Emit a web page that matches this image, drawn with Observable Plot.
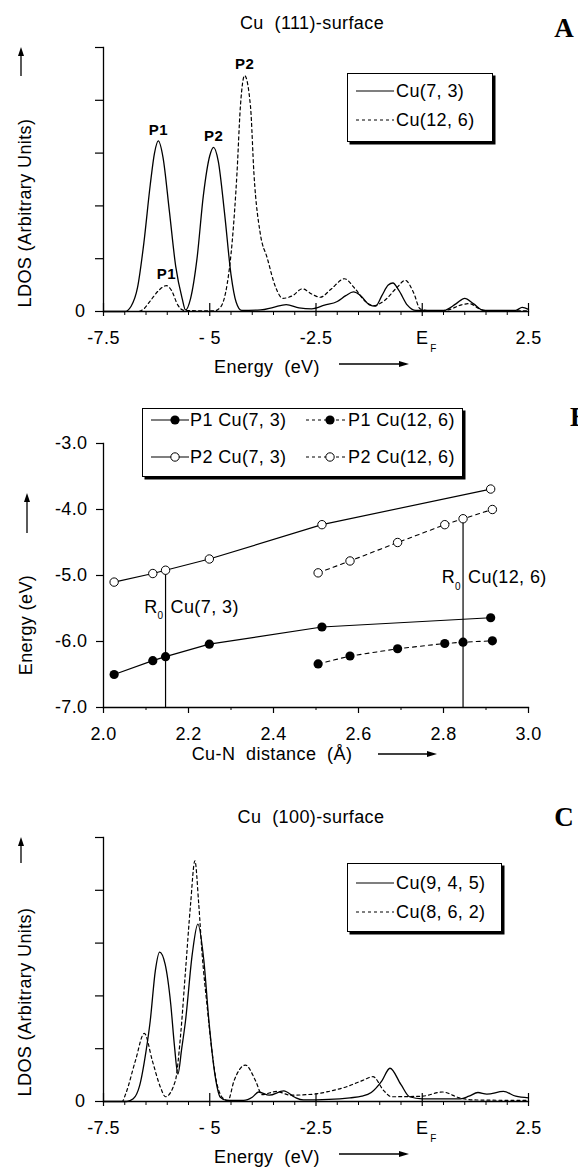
<!DOCTYPE html>
<html>
<head>
<meta charset="utf-8">
<script src="https://cdn.jsdelivr.net/npm/d3@7"></script>
<script src="https://cdn.jsdelivr.net/npm/@observablehq/plot@0.6"></script>
<style>
html,body{margin:0;padding:0;background:#fff;}
#fig{position:relative;width:578px;height:1167px;overflow:hidden;background:#fff;color:#000;
 font-family:"Liberation Sans",Arial,Helvetica,sans-serif;font-size:18px;letter-spacing:0.4px;}
#fig .abs{position:absolute;white-space:pre;line-height:1;}
.legend{position:absolute;border:1.5px solid #000;box-shadow:2.5px 2.5px 0 #000;background:#fff;box-sizing:border-box;}
</style>
</head>
<body>
<div id="fig"></div>
<script>
// ---------------- Panel A: Cu (111)-surface, LDOS ----------------
const energyA_Cu73 = [-7.5, -7.0, -6.85, -6.7, -6.55, -6.4, -6.3, -6.21, -6.1, -5.95, -5.8, -5.65, -5.57, -5.45, -5.3, -5.15, -5.0, -4.91, -4.8, -4.65, -4.5, -4.38, -4.25, -3.8, -3.5, -3.2, -2.9, -2.6, -2.3, -2.0, -1.8, -1.62, -1.45, -1.25, -1.1, -0.95, -0.8, -0.69, -0.55, -0.35, -0.15, 0.5, 0.8, 1.0, 1.2, 1.45, 2.2, 2.35, 2.5];
const ldosA_Cu73   = [0, 0, 0.1, 0.45, 1.3, 2.4, 3.0, 3.23, 2.92, 1.9, 0.85, 0.25, 0.03, 0.25, 1.0, 2.2, 2.95, 3.11, 2.85, 1.85, 0.7, 0.18, 0.02, 0.03, 0.08, 0.13, 0.07, 0.05, 0.12, 0.19, 0.3, 0.37, 0.3, 0.13, 0.1, 0.3, 0.5, 0.54, 0.4, 0.12, 0.02, 0.02, 0.15, 0.25, 0.15, 0.02, 0.02, 0.08, 0.04];
const energyA_Cu126 = [-7.5, -6.7, -6.55, -6.4, -6.2, -6.02, -5.9, -5.75, -5.6, -4.9, -4.75, -4.59, -4.47, -4.36, -4.28, -4.18, -4.04, -3.96, -3.81, -3.65, -3.45, -3.28, -3.05, -2.82, -2.6, -2.4, -2.15, -1.83, -1.6, -1.35, -1.15, -0.9, -0.6, -0.4, -0.2, -0.05, 0.2, 0.6, 0.9, 1.1, 1.35, 1.6, 2.5];
const ldosA_Cu126   = [0, 0, 0.05, 0.2, 0.4, 0.49, 0.4, 0.12, 0.02, 0.01, 0.08, 0.52, 1.34, 2.61, 3.87, 4.47, 3.87, 2.61, 1.47, 1.02, 0.46, 0.25, 0.3, 0.43, 0.33, 0.27, 0.42, 0.62, 0.45, 0.2, 0.11, 0.2, 0.45, 0.59, 0.35, 0.05, 0.01, 0.03, 0.12, 0.15, 0.05, 0.01, 0.01];
const seriesNamesA = ["Cu(7, 3)", "Cu(12, 6)"];
// peak labels: [series index, point index, text]
const peakSeriesA = [0, 0, 1, 1];
const peakIndexA  = [7, 17, 5, 15];
const peakTextA   = ["P1", "P2", "P1", "P2"];

// ---------------- Panel B: peak energy vs Cu-N distance ----------------
const dist_Cu73  = [2.025, 2.116, 2.146, 2.249, 2.514, 2.911];
const eP1_Cu73   = [-6.50, -6.29, -6.23, -6.04, -5.78, -5.64];
const eP2_Cu73   = [-5.10, -4.97, -4.92, -4.75, -4.23, -3.69];
const dist_Cu126 = [2.505, 2.580, 2.692, 2.803, 2.846, 2.915];
const eP1_Cu126  = [-6.34, -6.22, -6.11, -6.03, -6.01, -5.99];
const eP2_Cu126  = [-4.96, -4.78, -4.50, -4.23, -4.14, -4.00];
const r0Index    = [2, 4];           // equilibrium distance point of Cu(7,3) and Cu(12,6)
const r0Sites    = ["Cu(7, 3)", "Cu(12, 6)"];
const r0LabelE   = [-5.48, -5.03];   // label heights (eV)
const ticksB_x   = [2.0, 2.2, 2.4, 2.6, 2.8, 3.0];
const minorB_x   = [2.1, 2.3, 2.5, 2.7, 2.9];
const ticksB_y   = [-3, -4, -5, -6, -7];

// ---------------- Panel C: Cu (100)-surface, LDOS ----------------
const energyC_Cu945 = [-7.5, -6.95, -6.8, -6.65, -6.5, -6.4, -6.28, -6.18, -6.05, -5.92, -5.83, -5.75, -5.66, -5.57, -5.41, -5.28, -5.14, -5.02, -4.88, -4.75, -4.6, -4.2, -4.0, -3.85, -3.6, -3.26, -3.0, -2.8, -2.2, -1.7, -1.42, -1.2, -0.95, -0.76, -0.5, -0.3, 0.0, 0.9, 1.1, 1.31, 1.52, 1.91, 2.2, 2.5];
const ldosC_Cu945   = [0, 0, 0.05, 0.3, 0.95, 1.53, 2.48, 2.83, 2.6, 1.86, 1.05, 0.52, 1.0, 1.53, 2.8, 3.36, 2.68, 1.53, 0.52, 0.08, 0.02, 0.02, 0.08, 0.18, 0.12, 0.2, 0.08, 0.03, 0.04, 0.07, 0.1, 0.17, 0.39, 0.63, 0.32, 0.09, 0.05, 0.05, 0.1, 0.17, 0.14, 0.19, 0.1, 0.07];
const energyC_Cu862 = [-7.5, -7.06, -6.98, -6.75, -6.54, -6.35, -6.16, -6.04, -5.81, -5.69, -5.57, -5.45, -5.35, -5.26, -5.18, -5.06, -4.94, -4.83, -4.67, -4.57, -4.43, -4.16, -3.92, -3.77, -3.43, -3.1, -2.55, -2.2, -1.78, -1.4, -1.16, -0.9, -0.72, -0.01, 0.48, 0.87, 1.2, 2.5];
const ldosC_Cu862   = [0, 0, 0.14, 0.77, 1.29, 0.77, 0.27, 0.09, 0.39, 1.22, 2.48, 3.75, 4.56, 3.75, 2.8, 1.79, 0.9, 0.33, 0.05, 0.02, 0.39, 0.69, 0.39, 0.13, 0.19, 0.12, 0.14, 0.19, 0.28, 0.4, 0.47, 0.2, 0.09, 0.1, 0.18, 0.07, 0.03, 0.02];
const seriesNamesC = ["Cu(9, 4, 5)", "Cu(8, 6, 2)"];

// shared energy axis
const energyMajor = [-7.5, -5, -2.5, 0, 2.5];
const energyMajorLabels = ["-7.5", "- 5", "-2.5", "E", "2.5"];
const energyMinor = [-7, -6.5, -6, -5.5, -4.5, -4, -3.5, -3, -2, -1.5, -1, -0.5, 0.5, 1, 1.5, 2];
const ldosTicks = [0, 1, 2, 3, 4, 5];

// ------------------------------------------------------------------
const FONT = '"Liberation Sans", Arial, Helvetica, sans-serif';
const fig = document.getElementById("fig");
const baseStyle = {fontFamily: FONT, fontSize: "18px", color: "#000", background: "transparent", overflow: "visible", letterSpacing: "0.4px"};

function place(svg, top) {
  svg.style.position = "absolute";
  svg.style.left = "0px";
  svg.style.top = top + "px";
  svg.style.maxWidth = "none";
  fig.appendChild(svg);
}

function ldosChart(eS, vS, eD, vD, peaks) {
  const solid = eS.map((e, i) => ({e, v: vS[i]}));
  const dashed = eD.map((e, i) => ({e, v: vD[i]}));
  const marks = [
    Plot.frame({anchor: "left", stroke: "#000", strokeWidth: 1.3}),
    Plot.frame({anchor: "bottom", stroke: "#000", strokeWidth: 1.3}),
    Plot.axisY({ticks: ldosTicks, tickSize: 8, tickPadding: 10, tickFormat: d => d === 0 ? "0" : "", label: null, strokeWidth: 1.2}),
    Plot.axisX({ticks: energyMinor, tickSize: 4, tickFormat: () => "", label: null}),
    Plot.axisX({ticks: energyMajor, tickSize: 5, tickPadding: 15, tickFormat: d => energyMajorLabels[energyMajor.indexOf(d)], label: null, strokeWidth: 1.2}),
    Plot.ruleX(energyMajor, {x: d => d, y1: 0, y2: 0, insetTop: -8, insetBottom: 0, stroke: "#000", strokeWidth: 1.2}),
    Plot.text([0], {x: d => d, frameAnchor: "bottom", dx: 8, dy: 40, textAnchor: "start", text: () => "F", fontSize: 10}),
    Plot.line(dashed, {x: "e", y: "v", curve: "monotone-x", stroke: "#000", strokeWidth: 1.2, strokeDasharray: "3,3"}),
    Plot.line(solid, {x: "e", y: "v", curve: "monotone-x", stroke: "#000", strokeWidth: 1.3})
  ];
  if (peaks) {
    const rows = peaks.series.map((s, k) => {
      const src = s === 0 ? solid : dashed;
      return {e: src[peaks.index[k]].e, v: src[peaks.index[k]].v, t: peaks.text[k]};
    });
    marks.push(Plot.text(rows, {x: "e", y: "v", text: "t", dy: -11, fontSize: 15, fontWeight: "bold"}));
  }
  return Plot.plot({
    width: 578, height: 380,
    marginLeft: 103, marginRight: 50, marginTop: 47, marginBottom: 69,
    x: {domain: [-7.5, 2.5]}, y: {domain: [0, 5]},
    style: baseStyle,
    marks
  });
}

// Panel A
place(ldosChart(energyA_Cu73, ldosA_Cu73, energyA_Cu126, ldosA_Cu126,
  {series: peakSeriesA, index: peakIndexA, text: peakTextA}), 0);

// Panel B
const rowsOf = (d, e) => d.map((x, i) => ({d: x, e: e[i]}));
const p1_73 = rowsOf(dist_Cu73, eP1_Cu73), p2_73 = rowsOf(dist_Cu73, eP2_Cu73);
const p1_126 = rowsOf(dist_Cu126, eP1_Cu126), p2_126 = rowsOf(dist_Cu126, eP2_Cu126);
const r0Rows = [
  {d: dist_Cu73[r0Index[0]], e: eP2_Cu73[r0Index[0]], le: r0LabelE[0], site: r0Sites[0]},
  {d: dist_Cu126[r0Index[1]], e: eP2_Cu126[r0Index[1]], le: r0LabelE[1], site: r0Sites[1]}
];
const chartB = Plot.plot({
  width: 578, height: 400,
  marginLeft: 103, marginRight: 50, marginTop: 63, marginBottom: 73,
  x: {domain: [2.0, 3.0]}, y: {domain: [-7, -3]},
  style: baseStyle,
  marks: [
    Plot.frame({anchor: "left", stroke: "#000", strokeWidth: 1.3}),
    Plot.frame({anchor: "bottom", stroke: "#000", strokeWidth: 1.3}),
    Plot.axisY({ticks: ticksB_y, tickSize: 7, tickPadding: 9, tickFormat: d => d.toFixed(1), label: null, strokeWidth: 1.2}),
    Plot.axisX({ticks: minorB_x, tickSize: 3, tickFormat: () => "", label: null}),
    Plot.axisX({ticks: ticksB_x, tickSize: 6, tickPadding: 14, tickFormat: d => d.toFixed(1), label: null, strokeWidth: 1.2}),
    Plot.ruleX(r0Rows, {x: "d", y1: "e", y2: -7, stroke: "#000", strokeWidth: 1.2}),
    Plot.line(p2_73, {x: "d", y: "e", stroke: "#000", strokeWidth: 1.2}),
    Plot.line(p1_73, {x: "d", y: "e", stroke: "#000", strokeWidth: 1.2}),
    Plot.line(p2_126, {x: "d", y: "e", stroke: "#000", strokeWidth: 1.1, strokeDasharray: "4,4"}),
    Plot.line(p1_126, {x: "d", y: "e", stroke: "#000", strokeWidth: 1.1, strokeDasharray: "4,4"}),
    Plot.dot(p1_73, {x: "d", y: "e", r: 4.6, fill: "#000", stroke: "none"}),
    Plot.dot(p1_126, {x: "d", y: "e", r: 4.6, fill: "#000", stroke: "none"}),
    Plot.dot(p2_73, {x: "d", y: "e", r: 4.2, fill: "#fff", stroke: "#000", strokeWidth: 1}),
    Plot.dot(p2_126, {x: "d", y: "e", r: 4.2, fill: "#fff", stroke: "#000", strokeWidth: 1}),
    Plot.text(r0Rows, {x: "d", y: "le", text: () => "R", textAnchor: "end", dx: -8}),
    Plot.text(r0Rows, {x: "d", y: "le", text: () => "0", textAnchor: "end", dx: -2, dy: 9, fontSize: 10}),
    Plot.text(r0Rows, {x: "d", y: "le", text: "site", textAnchor: "start", dx: 5})
  ]
});
place(chartB, 380);

// Panel C
place(ldosChart(energyC_Cu945, ldosC_Cu945, energyC_Cu862, ldosC_Cu862, null), 790);

// ---------------- text, legends, arrows (HTML overlay) ----------------
function txt(s, x, y, opts = {}) {
  const d = document.createElement("div");
  d.className = "abs";
  d.textContent = s;
  d.style.left = x + "px";
  d.style.top = y + "px";
  d.style.transform = opts.transform || "translate(-50%,-50%)";
  if (opts.size) d.style.fontSize = opts.size + "px";
  if (opts.family) d.style.fontFamily = opts.family;
  if (opts.weight) d.style.fontWeight = opts.weight;
  if (opts.ls != null) d.style.letterSpacing = opts.ls;
  fig.appendChild(d);
  return d;
}
function box(x, y, w, h) {
  const d = document.createElement("div");
  d.className = "legend";
  Object.assign(d.style, {left: x + "px", top: y + "px", width: w + "px", height: h + "px"});
  fig.appendChild(d);
}
const LEFT = "translate(0,-50%)";
const ROT = "translate(-50%,-50%) rotate(-90deg)";
const SERIF = '"Liberation Serif", "Times New Roman", serif';

// titles & panel letters
txt("Cu  (111)-surface", 312, 23);
txt("Cu  (100)-surface", 311, 817);
txt("A", 564, 28, {size: 27, family: SERIF, weight: "bold", ls: "0"});
txt("B", 570, 417, {size: 27, family: SERIF, weight: "bold", ls: "0", transform: "translate(0,-50%)"});
txt("C", 564, 817, {size: 27, family: SERIF, weight: "bold", ls: "0"});

// axis titles
txt("LDOS (Arbitrary Units)", 25, 213, {transform: ROT});
txt("Energy (eV)", 26, 625, {transform: ROT});
txt("LDOS (Arbitrary Units)", 25, 1002, {transform: ROT});
txt("Energy  (eV)", 267, 367);
txt("Cu-N  distance  (Å)", 272, 754);
txt("Energy  (eV)", 267, 1157);

// legends
box(346.5, 73, 146, 69);
txt(seriesNamesA[0], 396, 91, {transform: LEFT});
txt(seriesNamesA[1], 396, 120, {transform: LEFT});
box(346.5, 863, 155, 69);
txt(seriesNamesC[0], 396, 883, {transform: LEFT});
txt(seriesNamesC[1], 396, 912, {transform: LEFT});
box(142, 408, 321, 69);
txt("P1 " + r0Sites[0], 190, 420, {transform: LEFT});
txt("P1 " + r0Sites[1], 348, 420, {transform: LEFT});
txt("P2 " + r0Sites[0], 190, 457, {transform: LEFT});
txt("P2 " + r0Sites[1], 348, 457, {transform: LEFT});

// overlay: arrows and legend swatches
const NS = "http://www.w3.org/2000/svg";
const ov = document.createElementNS(NS, "svg");
ov.setAttribute("width", 578); ov.setAttribute("height", 1167);
Object.assign(ov.style, {position: "absolute", left: "0px", top: "0px", pointerEvents: "none"});
function el(name, attrs) {
  const e = document.createElementNS(NS, name);
  for (const k in attrs) e.setAttribute(k, attrs[k]);
  ov.appendChild(e);
  return e;
}
function hline(x1, x2, y, dash) {
  el("line", {x1, x2, y1: y, y2: y, stroke: "#000", "stroke-width": 1.2, "stroke-dasharray": dash ? "3,3" : "none"});
}
function arrowUp(x, yTail, yTip) {
  el("line", {x1: x, x2: x, y1: yTail, y2: yTip + 6, stroke: "#000", "stroke-width": 1.3});
  el("path", {d: `M${x},${yTip} L${x - 3},${yTip + 9} L${x + 3},${yTip + 9} Z`, fill: "#000"});
}
function arrowRight(x1, xTip, y) {
  el("line", {x1, x2: xTip - 6, y1: y, y2: y, stroke: "#000", "stroke-width": 1.3});
  el("path", {d: `M${xTip},${y} L${xTip - 10},${y - 3} L${xTip - 10},${y + 3} Z`, fill: "#000"});
}
arrowUp(21, 76, 47);
arrowUp(27, 533, 493);
arrowUp(21, 863, 837);
arrowRight(339, 409, 364);
arrowRight(378, 437, 754);
arrowRight(339, 409, 1154);
// LDOS legend swatches
hline(356, 394, 91, false); hline(356, 394, 120, true);
hline(356, 394, 883, false); hline(356, 394, 912, true);
// panel B legend swatches
hline(151, 189, 420, false); el("circle", {cx: 175, cy: 420, r: 4.6, fill: "#000"});
hline(306, 345, 420, true);  el("circle", {cx: 330, cy: 420, r: 4.6, fill: "#000"});
hline(151, 189, 457, false); el("circle", {cx: 175, cy: 457, r: 4.2, fill: "#fff", stroke: "#000", "stroke-width": 1});
hline(306, 345, 457, true);  el("circle", {cx: 330, cy: 457, r: 4.2, fill: "#fff", stroke: "#000", "stroke-width": 1});
fig.appendChild(ov);
</script>
</body>
</html>
